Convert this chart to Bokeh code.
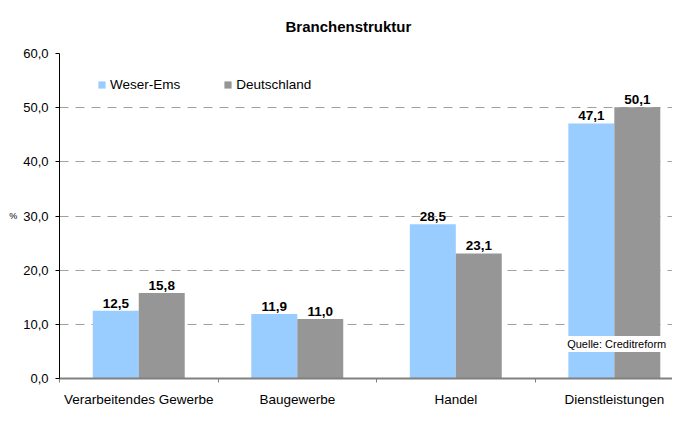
from bokeh.plotting import figure
from bokeh.models import (Range1d, FixedTicker, CustomJSTickFormatter,
                          ColumnDataSource, Label, Legend, LegendItem)
from bokeh.transform import dodge
from bokeh.embed import file_html
from bokeh.resources import INLINE
from bokeh.core.properties import value

categories = ["Verarbeitendes Gewerbe", "Baugewerbe", "Handel", "Dienstleistungen"]
weser_ems = [12.5, 11.9, 28.5, 47.1]
deutschland = [15.8, 11.0, 23.1, 50.1]
series_names = ["Weser-Ems", "Deutschland"]
y_ticks = [0, 10, 20, 30, 40, 50, 60]
title_text = "Branchenstruktur"
source_note = "Quelle: Creditreform"

FONT = "Liberation Sans"
BLUE = "#99CCFF"
GRAY = "#969696"


def fmt(v):
    return f"{v:.1f}".replace(".", ",")


centers = [i + 0.5 for i in range(len(categories))]
boundaries = [float(i) for i in range(len(categories))]

src = ColumnDataSource(dict(
    x=centers,
    we=weser_ems,
    de=deutschland,
    we_lbl=[fmt(v) for v in weser_ems],
    de_lbl=[fmt(v) for v in deutschland],
))

p = figure(x_range=Range1d(0, 3.867),
           y_range=Range1d(0, 60),
           width=672, height=409,
           output_backend="svg", toolbar_location=None,
           min_border_left=59, min_border_right=0,
           min_border_top=52, min_border_bottom=19)

p.outline_line_color = None
p.background_fill_color = "white"

bw = 0.29
off = 0.145
r1 = p.vbar(x=dodge("x", -off), top="we", width=bw, source=src,
            fill_color=BLUE, line_color=None)
r2 = p.vbar(x=dodge("x", off), top="de", width=bw, source=src,
            fill_color=GRAY, line_color=None)

for col, d in (("we", -off), ("de", off)):
    p.text(x=dodge("x", d), y=col, text=col + "_lbl",
           source=src, text_align="center", text_baseline="bottom", y_offset=-3,
           text_font=value(FONT), text_font_style="bold", text_font_size="13.5px",
           text_color="black")

# title
p.title.text = title_text
p.title.align = "left"
p.title.offset = 226
p.title.text_font = FONT
p.title.text_font_size = "15px"
p.title.text_font_style = "bold"
p.title.text_color = "black"
p.title.vertical_align = "top"
p.title.standoff = 34

# grid
p.xgrid.grid_line_color = None
p.ygrid.grid_line_color = "#A0A0A0"
p.ygrid.grid_line_dash = "9 7"
p.ygrid.grid_line_width = 1

# y axis
p.yaxis.ticker = FixedTicker(ticks=y_ticks)
p.yaxis.formatter = CustomJSTickFormatter(code="return tick.toFixed(1).replace('.', ',');")
p.yaxis.axis_line_color = "black"
p.yaxis.major_tick_line_color = "black"
p.yaxis.major_tick_out = 4
p.yaxis.major_tick_in = 0
p.yaxis.minor_tick_line_color = None
p.yaxis.major_label_text_font = FONT
p.yaxis.major_label_text_font_size = "13px"
p.yaxis.major_label_text_color = "black"
p.yaxis.major_label_standoff = 7
p.yaxis.axis_label = "%"
p.yaxis.axis_label_orientation = "horizontal"
p.yaxis.axis_label_text_font = FONT
p.yaxis.axis_label_text_font_size = "9px"
p.yaxis.axis_label_text_font_style = "normal"
p.yaxis.axis_label_text_color = "black"
p.yaxis.axis_label_standoff = 3

# x axis: labels at category centres, small ticks at category boundaries
p.xaxis.ticker = FixedTicker(ticks=centers, minor_ticks=boundaries)
p.xaxis.major_label_overrides = {c: name for c, name in zip(centers, categories)}
p.xaxis.axis_line_color = "#808080"
p.xaxis.axis_line_width = 2
p.xaxis.major_tick_line_color = None
p.xaxis.minor_tick_line_color = "#808080"
p.xaxis.minor_tick_out = 4
p.xaxis.minor_tick_in = 0
p.xaxis.major_label_text_font = FONT
p.xaxis.major_label_text_font_size = "13.5px"
p.xaxis.major_label_text_color = "black"
p.xaxis.major_label_standoff = 7

legend = Legend(items=[LegendItem(label=series_names[0], renderers=[r1]),
                       LegendItem(label=series_names[1], renderers=[r2])],
                orientation="horizontal", location=(38, 286),
                border_line_color=None, background_fill_alpha=0,
                glyph_width=9, glyph_height=9, label_text_font=FONT,
                label_text_font_size="13.5px", label_text_color="black",
                spacing=43, padding=0, margin=0, label_standoff=4)
p.add_layout(legend)

note = Label(x=3.19, y=4.9, text=source_note, text_font=FONT, text_font_size="11px",
             text_color="black", background_fill_color="white",
             text_baseline="bottom", padding=2)
p.add_layout(note)

open("out.html", "w").write(file_html(p, INLINE))
